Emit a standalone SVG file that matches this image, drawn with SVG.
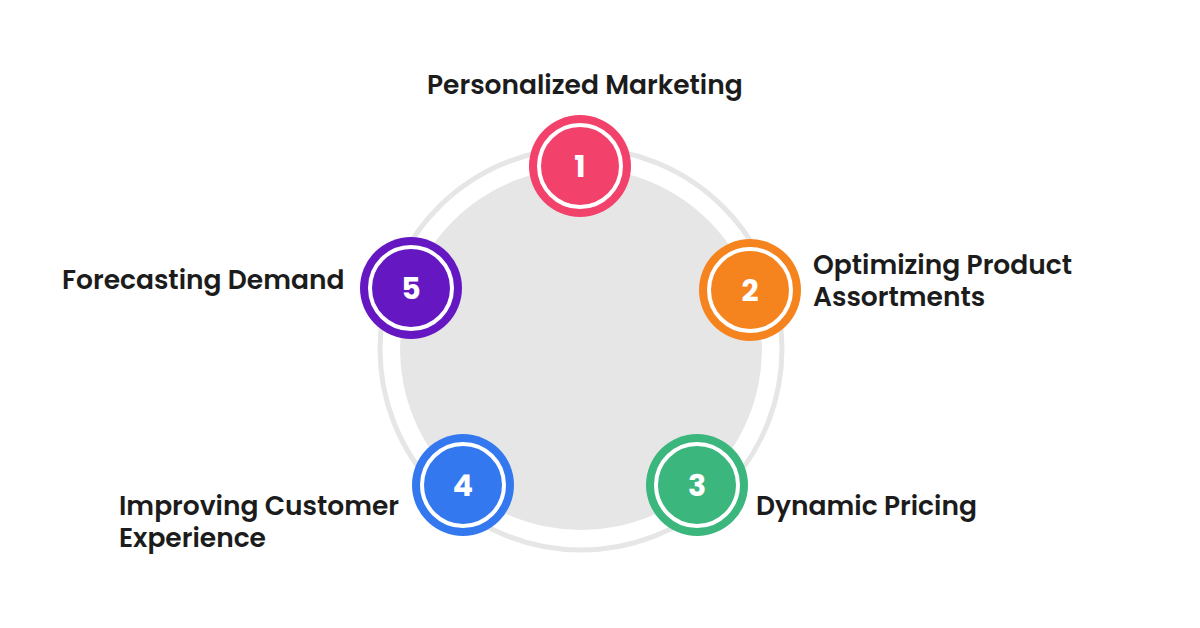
<svg xmlns="http://www.w3.org/2000/svg" width="1200" height="628" viewBox="0 0 1200 628">
<style>
.lbl{font-family:"Poppins","Inter","Liberation Sans",sans-serif;font-weight:600;font-size:26.5px;fill:#1c1c1c}
.num{font-family:"Poppins","Inter","Liberation Sans",sans-serif;font-weight:700;font-size:30px;fill:#fff}
.ring{fill:none;stroke:#fff;stroke-width:4}
</style>
<rect width="1200" height="628" fill="#fff"/>
<g id="base">
<circle cx="581" cy="349" r="201" fill="none" stroke="#e6e6e6" stroke-width="5"/>
<circle cx="581" cy="349" r="181" fill="#e6e6e6"/>
</g>
<g id="connectors"></g>
<g id="node1">
<circle cx="580" cy="166" r="51" fill="#f2426c"/>
<circle class="ring" cx="580" cy="166" r="41"/>
<text class="num" x="580" y="177" text-anchor="middle">1</text>
<text class="lbl" x="427" y="94">Personalized Marketing</text>
</g>
<g id="node2">
<circle cx="750" cy="290" r="51" fill="#f5841f"/>
<circle class="ring" cx="750" cy="290" r="41"/>
<text class="num" x="750" y="301" text-anchor="middle">2</text>
<text class="lbl" x="813" y="274">Optimizing Product</text>
<text class="lbl" x="813" y="306">Assortments</text>
</g>
<g id="node3">
<circle cx="697" cy="485" r="51" fill="#3bb67c"/>
<circle class="ring" cx="697" cy="485" r="41"/>
<text class="num" x="697" y="496" text-anchor="middle">3</text>
<text class="lbl" x="756" y="515">Dynamic Pricing</text>
</g>
<g id="node4">
<circle cx="463" cy="485" r="51" fill="#3478f0"/>
<circle class="ring" cx="463" cy="485" r="41"/>
<text class="num" x="463" y="496" text-anchor="middle">4</text>
<text class="lbl" x="119" y="515">Improving Customer</text>
<text class="lbl" x="119" y="547">Experience</text>
</g>
<g id="node5">
<circle cx="411" cy="288" r="51" fill="#6518c2"/>
<circle class="ring" cx="411" cy="288" r="41"/>
<text class="num" x="411" y="299" text-anchor="middle">5</text>
<text class="lbl" x="62" y="289">Forecasting Demand</text>
</g>
</svg>
